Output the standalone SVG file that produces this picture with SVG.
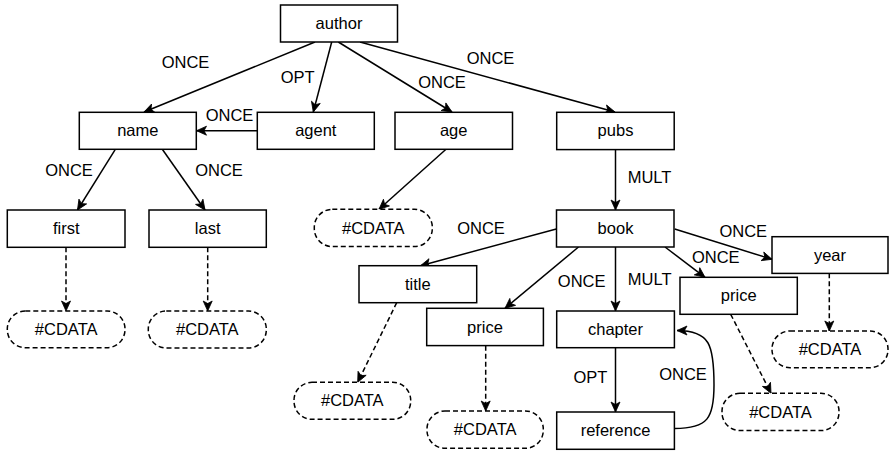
<svg xmlns="http://www.w3.org/2000/svg" width="889" height="452" viewBox="0 0 889 452">
<style>
.box{fill:#fff;stroke:#000;stroke-width:1.5}
.cd{fill:#fff;stroke:#000;stroke-width:1.5;stroke-dasharray:5 3}
text{font-family:"Liberation Sans",Arial,sans-serif;font-size:16.5px;fill:#000}
.t{text-anchor:middle}
.e{fill:none;stroke:#000;stroke-width:1.5;marker-end:url(#arr)}
.d{fill:none;stroke:#000;stroke-width:1.5;stroke-dasharray:5 3;marker-end:url(#arr)}
</style>
<defs>
<marker id="arr" markerUnits="userSpaceOnUse" markerWidth="12" markerHeight="10" refX="10" refY="4.5" orient="auto" overflow="visible">
<path d="M0,0 L10,4.5 L0,9 L2.5,4.5 Z" fill="#000" stroke="#000" stroke-width="0.8"/>
</marker>
</defs>
<rect width="889" height="452" fill="#fff"/>
<g id="connectors">
<line class="e" x1="315" y1="42" x2="144" y2="112"/>
<line class="e" x1="331.7" y1="42" x2="313.3" y2="112"/>
<line class="e" x1="338.3" y1="42" x2="452" y2="112"/>
<line class="e" x1="360" y1="42" x2="615" y2="112"/>
<line class="e" x1="257.3" y1="130.7" x2="196.5" y2="130.7"/>
<line class="e" x1="115.3" y1="149.3" x2="77.5" y2="210"/>
<line class="e" x1="162.3" y1="149.3" x2="205" y2="210"/>
<line class="e" x1="446" y1="149.3" x2="379" y2="209.3"/>
<line class="d" x1="66" y1="247.3" x2="66" y2="311"/>
<line class="d" x1="207.7" y1="247.3" x2="207.7" y2="311"/>
<line class="e" x1="615.5" y1="149.5" x2="615.5" y2="210"/>
<line class="e" x1="556.3" y1="229" x2="420.5" y2="265.7"/>
<line class="e" x1="578.5" y1="247" x2="505" y2="308.3"/>
<line class="e" x1="615.5" y1="247" x2="615.5" y2="311"/>
<line class="e" x1="665" y1="247" x2="705" y2="277.3"/>
<line class="e" x1="674.7" y1="229" x2="772" y2="259.3"/>
<line class="e" x1="615.5" y1="348" x2="615.5" y2="412"/>
<path class="e" d="M674.5,428.5 C708,428.5 714,418 714,385 C714,345 710,330.5 677,330.5"/>
<line class="d" x1="396.7" y1="302.7" x2="357.7" y2="382.3"/>
<line class="d" x1="485.7" y1="345.7" x2="485.7" y2="411"/>
<line class="d" x1="730.7" y1="314.3" x2="771" y2="393.3"/>
<line class="d" x1="829.3" y1="273.3" x2="829.3" y2="331"/>
<text x="185.5" y="68" class="t">ONCE</text>
<text x="297.7" y="82.7" class="t">OPT</text>
<text x="442" y="88" class="t">ONCE</text>
<text x="490.5" y="64" class="t">ONCE</text>
<text x="229.5" y="120.7" class="t">ONCE</text>
<text x="69" y="176" class="t">ONCE</text>
<text x="219" y="176" class="t">ONCE</text>
<text x="649.5" y="182.7" class="t">MULT</text>
<text x="481" y="234" class="t">ONCE</text>
<text x="581.7" y="286.5" class="t">ONCE</text>
<text x="649.7" y="284.5" class="t">MULT</text>
<text x="743.3" y="237" class="t">ONCE</text>
<text x="715.8" y="263" class="t">ONCE</text>
<text x="590.5" y="383" class="t">OPT</text>
<text x="683" y="380" class="t">ONCE</text>
</g>
<g id="author"><rect class="box" x="280.5" y="5" width="117" height="37"/><text class="t" x="339" y="29">author</text></g>
<g id="name"><rect class="box" x="79.3" y="112.3" width="117" height="37"/><text class="t" x="137.8" y="136.3">name</text></g>
<g id="agent"><rect class="box" x="257.3" y="112.3" width="117" height="37"/><text class="t" x="315.8" y="136.3">agent</text></g>
<g id="age"><rect class="box" x="395" y="112.3" width="117.5" height="37"/><text class="t" x="453.7" y="136.3">age</text></g>
<g id="pubs"><rect class="box" x="556.7" y="112.3" width="117.5" height="37.3"/><text class="t" x="615.5" y="136.3">pubs</text></g>
<g id="book"><rect class="box" x="556.5" y="210" width="117.5" height="37"/><text class="t" x="615.5" y="234">book</text></g>
<g id="first"><rect class="box" x="7.3" y="210" width="117.7" height="37.3"/><text class="t" x="66.2" y="234">first</text></g>
<g id="last"><rect class="box" x="149" y="210" width="117.3" height="37.3"/><text class="t" x="207.7" y="234">last</text></g>
<g id="cdata-first"><rect class="cd" x="7.3" y="311" width="117.7" height="36.7" rx="18" ry="18"/><text class="t" x="66.2" y="335">#CDATA</text></g>
<g id="cdata-last"><rect class="cd" x="148.3" y="311" width="118" height="37" rx="18" ry="18"/><text class="t" x="207.3" y="335">#CDATA</text></g>
<g id="cdata-age"><rect class="cd" x="314.3" y="209.3" width="118" height="37.3" rx="18" ry="18"/><text class="t" x="373.3" y="233.5">#CDATA</text></g>
<g id="title"><rect class="box" x="359" y="265.7" width="117.7" height="37"/><text class="t" x="417.8" y="289.7">title</text></g>
<g id="cdata-title"><rect class="cd" x="294" y="382.3" width="116.7" height="37" rx="18" ry="18"/><text class="t" x="352.3" y="406.3">#CDATA</text></g>
<g id="price1"><rect class="box" x="426.7" y="308.3" width="116.7" height="37.3"/><text class="t" x="485" y="332.5">price</text></g>
<g id="cdata-price1"><rect class="cd" x="427" y="411" width="116.3" height="37.3" rx="18" ry="18"/><text class="t" x="485.2" y="435.2">#CDATA</text></g>
<g id="chapter"><rect class="box" x="556.7" y="311" width="117.7" height="36.7"/><text class="t" x="615.5" y="335">chapter</text></g>
<g id="reference"><rect class="box" x="556.7" y="412" width="117.7" height="37.3"/><text class="t" x="615.5" y="436.2">reference</text></g>
<g id="price2"><rect class="box" x="680" y="277.3" width="117.3" height="37"/><text class="t" x="738.7" y="301.3">price</text></g>
<g id="year"><rect class="box" x="772" y="236.7" width="116" height="36.7"/><text class="t" x="830" y="260.7">year</text></g>
<g id="cdata-year"><rect class="cd" x="772" y="331" width="116" height="36.7" rx="18" ry="18"/><text class="t" x="830" y="355">#CDATA</text></g>
<g id="cdata-price2"><rect class="cd" x="722" y="393.3" width="117" height="37.3" rx="18" ry="18"/><text class="t" x="780.5" y="417.5">#CDATA</text></g>
</svg>
